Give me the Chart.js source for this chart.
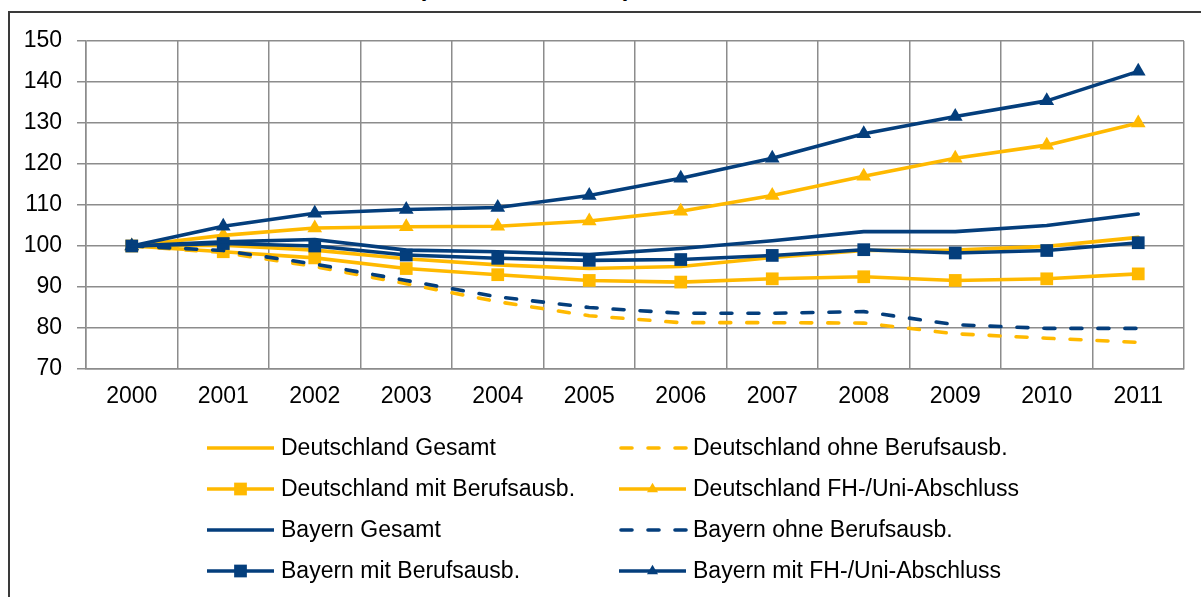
<!DOCTYPE html>
<html>
<head>
<meta charset="utf-8">
<script src="https://cdn.jsdelivr.net/npm/chart.js@4/dist/chart.umd.min.js"></script>
<style>
  html, body { margin: 0; padding: 0; background: #fff; overflow: hidden; }
  #frame { position: absolute; left: 8px; top: 11px; width: 1300px; height: 700px; border: 2px solid #3a3a3a; }
  #title { position: absolute; left: 418px; top: -24px; font: bold 24px "Liberation Sans", Arial, sans-serif; line-height: 24px; white-space: nowrap; letter-spacing: 0.4px; }
  #wrap { position: absolute; left: 0; top: 0; width: 1201px; height: 597px; }
</style>
</head>
<body>
<div id="frame"></div>
<div id="title">(Index 2000 = 100)</div>
<div id="wrap"><canvas id="chart" width="1201" height="597"></canvas></div>
<script>
// values (index, 2000 = 100)
const years = ["2000", "2001", "2002", "2003", "2004", "2005", "2006", "2007", "2008", "2009", "2010", "2011"];

const deGesamt = [100, 100.2, 99.0, 96.9, 95.4, 94.5, 95.0, 97.2, 98.9, 99.0, 99.9, 102.1];
const deOhne   = [100, 98.4, 95.0, 90.8, 86.4, 83.0, 81.3, 81.3, 81.2, 78.6, 77.5, 76.5];
const deMit    = [100, 98.6, 97.1, 94.5, 93.0, 91.6, 91.2, 92.0, 92.5, 91.6, 92.0, 93.2];
const deFH     = [100, 102.6, 104.4, 104.7, 104.8, 106.1, 108.5, 112.3, 117.0, 121.4, 124.6, 130.0];

const byGesamt = [100, 101.0, 101.6, 99.0, 98.6, 97.9, 99.4, 101.3, 103.5, 103.5, 105.0, 107.8];
const byOhne   = [100, 98.9, 95.6, 91.6, 87.6, 85.0, 83.6, 83.6, 84.0, 80.8, 79.9, 79.9];
const byMit    = [100, 100.6, 100.0, 97.8, 97.0, 96.5, 96.7, 97.7, 99.1, 98.3, 98.9, 100.8];
const byFH     = [100, 104.8, 108.0, 108.9, 109.4, 112.3, 116.5, 121.4, 127.4, 131.6, 135.4, 142.6];

const yellow = "#FFB900";
const navy = "#043E7C";
const FONT = '"Liberation Sans", Arial, sans-serif';

function series(label, data, color, opts) {
  return Object.assign({
    label: label,
    data: data,
    borderColor: color,
    backgroundColor: color,
    borderWidth: 3.6,
    pointRadius: 0,
    pointHoverRadius: 0,
    pointBorderWidth: 0,
    pointStyle: "rect",
    tension: 0,
    borderJoinStyle: "round",
    borderCapStyle: "round",
    order: color === navy ? 1 : 2,
  }, opts || {});
}

const dash = [11, 16];

const datasets = [
  series("Deutschland Gesamt", deGesamt, yellow),
  series("Deutschland ohne Berufsausb.", deOhne, yellow, { borderDash: dash }),
  series("Deutschland mit Berufsausb.", deMit, yellow, { pointRadius: 9, pointStyle: "rect" }),
  series("Deutschland FH-/Uni-Abschluss", deFH, yellow, { pointRadius: 8.5, pointStyle: "triangle" }),
  series("Bayern Gesamt", byGesamt, navy),
  series("Bayern ohne Berufsausb.", byOhne, navy, { borderDash: dash }),
  series("Bayern mit Berufsausb.", byMit, navy, { pointRadius: 9, pointStyle: "rect" }),
  series("Bayern mit FH-/Uni-Abschluss", byFH, navy, { pointRadius: 8.5, pointStyle: "triangle" }),
];

// two-column legend below the plot, like the original
const gridLegend = {
  id: "gridLegend",
  afterDraw(chart) {
    const ctx = chart.ctx;
    ctx.save();
    ctx.font = "23px " + FONT;
    ctx.textBaseline = "middle";
    chart.data.datasets.forEach((ds, i) => {
      const col = i % 2;
      const row = Math.floor(i / 2);
      const x0 = col ? 619 : 207;
      const x1 = x0 + 67;
      const y = 448 + row * 41;
      ctx.strokeStyle = ds.borderColor;
      ctx.lineWidth = ds.borderWidth;
      ctx.lineCap = ds.borderDash ? "round" : "butt";
      ctx.setLineDash(ds.borderDash || []);
      ctx.beginPath();
      ctx.moveTo(x0 + (ds.borderDash ? 2 : 0), y);
      ctx.lineTo(x1, y);
      ctx.stroke();
      ctx.setLineDash([]);
      if (ds.pointRadius > 0) {
        ctx.fillStyle = ds.backgroundColor;
        const k = ds.pointStyle === "rect" ? 1 : 0.75;
        Chart.helpers.drawPoint(ctx, { pointStyle: ds.pointStyle, radius: ds.pointRadius * k, rotation: 0, borderWidth: 0 }, (x0 + x1) / 2, y);
      }
      ctx.fillStyle = "#000";
      ctx.fillText(ds.label, x1 + 7, y + 1);
    });
    ctx.restore();
  },
};

const gridColor = "#8c8c8c";

new Chart(document.getElementById("chart"), {
  type: "line",
  data: { labels: years, datasets: datasets },
  plugins: [gridLegend],
  options: {
    responsive: false,
    animation: false,
    events: [],
    layout: { padding: { left: 0, top: 41, right: 17, bottom: 168 } },
    plugins: { legend: { display: false }, tooltip: { enabled: false }, title: { display: false } },
    scales: {
      x: {
        type: "category",
        offset: true,
        grid: { offset: true, color: gridColor, lineWidth: 1.5, drawTicks: false },
        border: { color: gridColor, width: 1.5 },
        ticks: { color: "#000", font: { family: FONT, size: 23 }, padding: 14, maxRotation: 0, autoSkip: false },
        afterFit(scale) { scale.height = 60; },
      },
      y: {
        min: 70,
        max: 150,
        grid: { color: gridColor, lineWidth: 1.5, tickLength: 9, tickColor: gridColor },
        border: { color: gridColor, width: 1.5 },
        ticks: { stepSize: 10, color: "#000", font: { family: FONT, size: 23 }, padding: 15 },
        afterFit(scale) { scale.width = 86; },
      },
    },
  },
});
</script>
</body>
</html>
